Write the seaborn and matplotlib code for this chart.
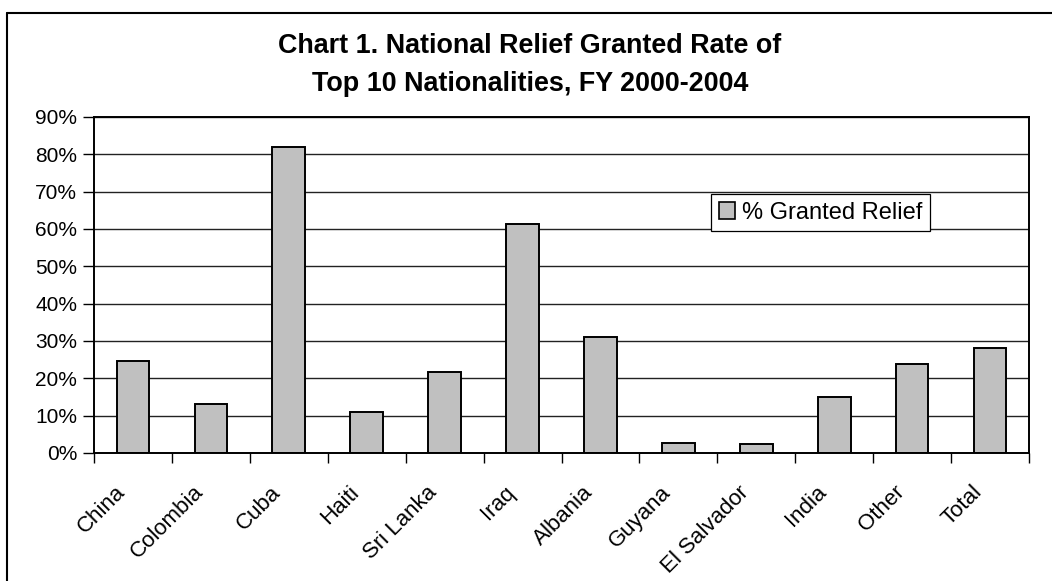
import matplotlib
matplotlib.use("Agg")
import matplotlib.pyplot as plt
import matplotlib.transforms as mtransforms
import seaborn as sns
import pandas as pd
from matplotlib.lines import Line2D
from matplotlib.ticker import FuncFormatter, FixedLocator

countries = ["China", "Colombia", "Cuba", "Haiti", "Sri Lanka", "Iraq",
             "Albania", "Guyana", "El Salvador", "India", "Other", "Total"]
granted_pct = [24.7, 13.1, 82.0, 11.0, 21.8, 61.4, 31.1, 2.8, 2.3, 15.0, 23.8, 28.2]
series_label = "% Granted Relief"
title_text = "Chart 1. National Relief Granted Rate of\nTop 10 Nationalities, FY 2000-2004"
y_ticks = [0, 10, 20, 30, 40, 50, 60, 70, 80, 90]

df = pd.DataFrame({"country": countries, "pct": granted_pct})

sns.set_theme(style="white")
plt.rcParams["font.family"] = ["Liberation Sans", "DejaVu Sans"]
plt.rcParams["text.color"] = "black"
plt.rcParams["xtick.color"] = "black"
plt.rcParams["ytick.color"] = "black"

W, H = 1052, 581
fig = plt.figure(figsize=(W / 100, H / 100), dpi=100)
fig.patch.set_facecolor("white")
ax = fig.add_axes([94 / W, 1 - 453 / H, (1029 - 94) / W, (453 - 117) / H])

sns.barplot(data=df, x="country", y="pct", color="#C0C0C0", edgecolor="black",
            linewidth=1.4, width=0.42, saturation=1, label=series_label, ax=ax)

ax.set_ylim(0, 90)
ax.set_xlim(-0.5, len(countries) - 0.5)
ax.set_yticks(y_ticks)
ax.yaxis.set_major_formatter(FuncFormatter(lambda v, p: f"{int(v)}%"))
ax.grid(axis="y", color="#222222", linewidth=1.0)
ax.set_axisbelow(True)
ax.set_xlabel("")
ax.set_ylabel("")

for s in ax.spines.values():
    s.set_visible(True)
    s.set_color("black")
    s.set_linewidth(1.4)

ax.tick_params(axis="y", which="major", length=8, width=1.0, color="black",
               direction="out", left=True, labelsize=15, pad=4, labelcolor="black")
ax.tick_params(axis="x", which="major", length=0, labelsize=16, pad=26, labelcolor="black")
ax.xaxis.set_minor_locator(FixedLocator([i - 0.5 for i in range(len(countries) + 1)]))
ax.tick_params(axis="x", which="minor", length=7, width=1.0, color="black",
               direction="out", bottom=True)
shift = mtransforms.ScaledTranslation(-11 / 100, 0, fig.dpi_scale_trans)
for lbl in ax.get_xticklabels():
    lbl.set_rotation(45)
    lbl.set_ha("right")
    lbl.set_va("center")
    lbl.set_rotation_mode("anchor")
    lbl.set_transform(lbl.get_transform() + shift)

leg = ax.legend(loc="upper left", bbox_to_anchor=(711 / W, 1 - 194 / H),
                bbox_transform=fig.transFigure, borderaxespad=0, fancybox=False,
                framealpha=1, edgecolor="black", fontsize=17,
                handlelength=0.7, handleheight=0.7, handletextpad=0.3,
                borderpad=0.32)
leg.get_frame().set_linewidth(0.9)
for h in leg.legend_handles:
    h.set_linewidth(1.2)
for t in leg.get_texts():
    t.set_color("black")

fig.text(530 / W, 1 - 65 / H, title_text, ha="center", va="center",
         fontsize=19.4, fontweight="bold", linespacing=1.6, color="black")

fig.add_artist(Line2D([7 / W, 1.0], [1 - 13 / H, 1 - 13 / H],
                      transform=fig.transFigure, color="black", linewidth=1.5))
fig.add_artist(Line2D([7 / W, 7 / W], [1 - 13 / H, 0.0],
                      transform=fig.transFigure, color="black", linewidth=1.5))

fig.savefig("out.png", dpi=100, facecolor="white")
